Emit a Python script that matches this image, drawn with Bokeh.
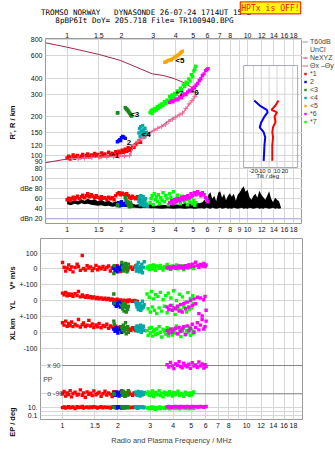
import math
from bokeh.plotting import figure
from bokeh.models import (Range1d, LinearScale, LogScale, FixedTicker, Label, Span, LogAxis,
                          LinearAxis, Legend, LegendItem)
from bokeh.layouts import column, row
from bokeh.embed import file_html
from bokeh.resources import INLINE
from bokeh.core.properties import value

# ---------------- data ----------------
FREQ_TICKS = [1, 1.5, 2, 3, 4, 5, 6, 7, 8, 10, 12, 14, 16, 18]
FREQ_TICKS_MID = [1, 1.5, 2, 3, 4, 5, 6, 7, 8, 9, 10, 12, 14, 16, 18]
HEIGHT_TICKS = [80, 90, 100, 120, 150, 200, 300, 400, 600, 800]
AMP_TICKS = [100, 80, 60, 40, 20]
AMP_TICK_LABELS = ["100", "dBe 80", "60", "40", "dBn 20"]
TILT_TICKS = [-20, -10, 0, 10, 20]
TILT_GRID = [-20, -10, 0, 10, 20, 30]
VS_TICKS = [100, 0, -100]
VS_LABELS = ["100", "0", "+-100"]
YL_TICKS = [0, -100]
YL_LABELS = ["0", "+-100"]
XL_TICKS = [0, -100]
XL_LABELS = ["0", "-100"]
PP_TICKS = [90, -90]
EP_TICKS = [10, 1, 0.1]
EP_LABELS = ["10.", "", "0.1"]

NBSP3 = "\u00a0\u00a0\u00a0"
TITLE_1 = "TROMSO NORWAY" + NBSP3 + "DYNASONDE 26-07-24 1714UT 15°E"
TITLE_2 = "8pBP6It DoY= 205.718 File= TR100940.BPG"
HPTX = "HPTx is OFF!"

# real-height profile (maroon) incl. topside
PROFILE_F = [0.759, 1.00, 1.30, 1.70, 2.00, 2.25, 2.28, 2.42, 2.65, 3.01, 3.41, 3.71,
             4.02, 4.38, 4.86, 5.00, 5.17, 5.35, 5.15, 4.38, 3.86, 3.41, 2.97, 1.98,
             1.51, 1.00, 0.759]
PROFILE_H = [88, 94, 96, 98, 99, 100, 118, 127, 139, 157, 173, 190,
             201, 215, 260, 273, 293, 310, 325, 372, 400, 420, 432, 549,
             611, 697, 754]

# NeXYZ profile points (pink +)
NEXYZ_F = [1.06, 1.15, 1.25, 1.37, 1.50, 1.66, 1.81, 1.94, 2.08, 2.22, 2.34, 2.47, 2.60, 2.74,
           2.88, 3.03, 3.18, 3.34, 3.50, 3.66, 3.83, 4.00, 4.18, 4.36, 4.55, 4.74, 4.92, 5.10]
NEXYZ_H = [94.5, 95, 95.5, 96.5, 97, 97.5, 98, 98.5, 99, 100, 120, 129, 136, 143,
           150, 157, 163, 168, 174, 184, 191, 199, 207, 214, 232, 252, 268, 287]

# trace *1 (red)
RED_F = [1.00, 1.02, 1.04, 1.06, 1.08, 1.10, 1.12, 1.14, 1.17, 1.20,
         1.22, 1.25, 1.28, 1.30, 1.33, 1.36, 1.39, 1.42, 1.45, 1.48,
         1.52, 1.55, 1.58, 1.62, 1.66, 1.70, 1.74, 1.78, 1.82, 1.86,
         1.90, 1.94, 1.98, 2.02, 2.06, 2.10, 2.14, 2.18, 2.22, 2.26,
         2.30, 2.35, 2.40, 2.45, 2.50, 2.55]
RED_H = [96, 99, 94, 97, 101, 95, 98, 100, 96, 99,
         102, 97, 100, 103, 98, 101, 99, 104, 100, 102,
         98, 105, 101, 103, 99, 106, 102, 104, 100, 107,
         103, 108, 105, 110, 106, 112, 108, 115, 110, 113,
         118, 116, 122, 126, 130, 127]
RED_AMP = [58, 61, 56, 60, 63, 59, 62, 65, 60, 64,
           67, 62, 66, 70, 64, 68, 65, 62, 66, 63,
           60, 64, 61, 62, 59, 63, 60, 62, 58, 66,
           70, 72, 68, 71, 69, 67, 70, 66, 63, 61,
           65, 62, 60, 64, 61, 58]
RED_VS = [40, 10, -15, 5, 25, -5, 12, -20, 8, 30,
          15, -10, 85, 2, -8, 20, 5, 12, -12, 3,
          22, -6, 10, 0, 15, -3, 8, 18, -14, 5,
          12, -8, 20, 2, -18, 10, -5, 15, 3, -10,
          6, 12, -4, 8, 18, -6]
RED_YL = [45, 35, 50, 28, 40, 32, 38, 25, 42, 30,
          55, 22, 34, 26, 20, 30, 18, 24, 15, 22,
          12, 19, 10, 16, 8, 14, 6, 12, 3, 10,
          5, 0, 8, -3, 4, -6, 2, -4, 0, -8,
          3, -2, -5, 0, -3, -6]
RED_XL = [60, 45, 70, 38, 55, 42, 65, 35, 50, 40,
          80, 33, 48, 58, 36, 44, 75, 39, 52, 30,
          46, 34, 55, 28, 42, 36, 50, 25, 40, 32,
          22, 38, 28, 20, 35, 18, 26, 30, 15, 24,
          20, 12, 28, 16, 10, 22]
RED_PP = [-90, -75, -105, -85, -95, -70, -110, -88, -80, -98,
          -92, -65, -100, -84, -112, -78, -94, -86, -102, -72,
          -96, -88, -80, -106, -90, -74, -98, -84, -92, -108,
          -76, -90, -100, -82, -94, -70, -88, -104, -86, -96,
          -80, -92, -100, -84, -90, -98]
RED_EP = [8, 12, 6, 10, 14, 7, 9, 11, 5, 13,
          8, 10, 15, 6, 9, 12, 7, 11, 8, 14,
          10, 6, 9, 13, 7, 12, 8, 10, 6, 11,
          9, 14, 7, 10, 12, 8, 6, 11, 9, 13,
          7, 10, 8, 12, 9, 6]

# trace 2 (blue)
BLUE_F = [1.90, 1.93, 1.96, 1.98, 2.00, 2.03, 2.06, 2.10]
BLUE_H = [128, 130, 133, 131, 138, 141, 139, 136]
BLUE_AMP = [48, 52, 46, 50, 54, 49, 47, 51]
BLUE_VS = [5, -10, 15, -20, 0, 10, -5, 20]
BLUE_YL = [-15, -25, -35, -20, -30, -10, -40, -22]
BLUE_XL = [20, 5, 30, 10, -5, 15, 25, 0]
BLUE_PP = [-85, -100, -78, -95, -88, -105, -80, -92]
BLUE_EP = [9, 12, 7, 10, 14, 8, 11, 6]

# trace <3 (dark green)
DG_F = [1.90, 1.91, 2.10, 2.12, 2.14, 2.16, 2.18, 2.20, 2.22, 2.24, 2.26, 2.28]
DG_H = [214, 216, 236, 232, 229, 226, 222, 218, 214, 210, 206, 203]
DG_AMP = [46, 48, 62, 58, 52, 55, 47, 50, 44, 53, 49, 45]
DG_VS = [-30, 20, 40, 10, -15, 25, -5, 35, 15, -20, 5, 30]
DG_YL = [40, -15, -30, -50, -20, -65, -40, -25, -70, -45, -55, -35]
DG_XL = [70, 50, 30, 15, 45, 5, 25, 60, -10, 20, 35, 0]
DG_PP = [-88, -95, -80, -100, -75, -92, -85, -105, -90, -82, -98, -70]
DG_EP = [10, 8, 12, 7, 11, 9, 13, 6, 10, 8, 12, 9]

# trace <4 (cyan)
CY_F = [2.50, 2.52, 2.54, 2.56, 2.58, 2.60, 2.62, 2.64, 2.66, 2.68, 2.70, 2.72, 2.75, 2.78]
CY_H = [150, 162, 140, 168, 155, 145, 171, 158, 138, 150, 163, 144, 152, 147]
CY_AMP = [55, 62, 48, 66, 52, 58, 50, 64, 46, 57, 53, 60, 49, 45]
CY_VS = [10, -15, 25, -5, 40, 0, -20, 15, 5, -10, 30, -25, 8, 45]
CY_YL = [-10, -25, -40, -15, -55, -30, -45, -20, -60, -35, -50, -5, -40, -25]
CY_XL = [30, 15, 40, 20, 5, 35, 25, 10, 45, 0, 28, 18, 38, 12]
CY_PP = [-80, -95, -88, -100, -75, -92, -85, -105, -90, -78, -98, -86, -94, -82]
CY_EP = [11, 8, 13, 9, 7, 12, 10, 14, 8, 11, 9, 12, 7, 10]

# trace <5 (orange)
OR_F = [3.48, 3.55, 3.63, 3.70, 3.78, 3.86, 3.95, 4.02, 4.09, 4.16, 4.23, 4.29, 4.35]
OR_H = [532, 540, 549, 552, 556, 570, 583, 590, 600, 611, 625, 637, 650]

# trace *6 (magenta)
MG_F = [3.70, 3.78, 3.86, 3.95, 4.03, 4.12, 4.21, 4.30, 4.38, 4.47,
        4.56, 4.66, 4.76, 4.86, 4.96, 5.07, 5.18, 5.29, 5.40, 5.51,
        5.62, 5.74, 5.86, 5.95, 6.03]
MG_H = [258, 266, 262, 270, 276, 272, 286, 282, 294, 302,
        298, 312, 322, 318, 334, 340, 352, 364, 384, 396,
        420, 432, 458, 466, 475]
MG_AMP = [52, 56, 50, 58, 54, 60, 56, 62, 58, 64,
          60, 66, 62, 70, 66, 72, 68, 74, 70, 66,
          72, 68, 62, 58, 54]
MG_VS = [5, 12, 0, 8, 15, 3, 10, 18, 6, 14,
         2, 20, 8, 25, 12, 30, 16, 42, 22, 10,
         28, 18, 35, 14, 24]
MG_YL = [-40, -55, -30, -60, -45, -50, -35, -65, -25, -70,
         -20, -50, -10, -40, 0, -30, 10, -20, 20, -80,
         15, -95, 5, 25, -60]
MG_XL = [10, -5, 20, 0, 15, 25, -10, 30, 5, 20,
         35, -15, 40, 10, 25, 50, 0, 30, 60, 15,
         45, 80, 20, 35, 70]
MG_PP = [95, 80, 110, 88, 70, 100, 92, 115, 84, 76,
         104, 90, 82, 98, 72, 108, 86, 94, 78, 112,
         88, 100, 74, 96, 84]
MG_EP = [12, 15, 10, 14, 11, 16, 13, 10, 15, 12,
         14, 11, 16, 13, 10, 15, 12, 14, 11, 13,
         16, 12, 10, 14, 15]

# trace *7 (light green)
LG_F = [2.88, 2.92, 2.96, 3.00, 3.04, 3.08, 3.12, 3.16, 3.20, 3.25,
        3.30, 3.35, 3.40, 3.46, 3.52, 3.58, 3.64, 3.70, 3.76, 3.82,
        3.88, 3.95, 4.02, 4.09, 4.16, 4.24, 4.32, 4.40, 4.48, 4.56,
        4.64, 4.72, 4.80, 4.88, 4.96, 5.04, 5.10, 5.16]
LG_H = [216, 224, 212, 228, 222, 233, 226, 240, 232, 246,
        238, 252, 246, 262, 254, 270, 262, 288, 276, 296,
        286, 304, 298, 318, 312, 335, 326, 355, 345, 372,
        362, 395, 380, 425, 410, 455, 470, 495]
LG_AMP = [52, 60, 66, 48, 70, 58, 64, 55, 68, 50,
          62, 57, 72, 54, 66, 60, 48, 70, 63, 56,
          74, 52, 61, 67, 58, 50, 65, 62, 55, 60,
          48, 58, 53, 62, 50, 56, 47, 52]
LG_VS = [5, 15, -5, 20, 10, 0, 25, 8, -10, 18,
         12, 3, 22, 6, -8, 15, 10, 28, 2, 14,
         -4, 18, 8, 12, 24, 0, 16, 6, 20, -6,
         10, 14, 4, 26, 8, 12, 18, 2]
LG_YL = [40, -50, 20, -70, 55, -40, 10, -60, 35, -80,
         25, -45, 50, -65, 5, -35, 30, -75, 45, -55,
         15, -30, 60, -85, 0, -50, 38, -60, 22, -40,
         -10, -70, 48, -55, 12, -45, 30, -20]
LG_XL = [10, -20, 25, -5, 30, -25, 5, 15, -15, 20,
         -8, 35, 0, -30, 18, 8, -12, 28, -22, 12,
         2, -18, 22, -5, 40, -10, 15, -28, 6, 25,
         -15, 10, -2, 30, -20, 14, -8, 4]
LG_PP = [-90, -78, -100, -85, -95, -72, -108, -88, -82, -96,
         -92, -70, -102, -86, -110, -80, -94, -84, -98, -76,
         -90, -104, -82, -96, -88, -74, -100, -86, -92, -106,
         -80, -94, -88, -100, -84, -96, -90, -78]
LG_EP = [6, 9, 4, 8, 12, 5, 7, 10, 3, 8,
         6, 11, 4, 9, 7, 5, 10, 6, 8, 4,
         12, 6, 9, 5, 7, 11, 4, 8, 6, 10,
         5, 7, 9, 4, 8, 6, 10, 5]

# unclassified amplitude band (black)
BLACK_F = [1.00, 1.05, 1.10, 1.15, 1.20, 1.25, 1.30, 1.36, 1.42, 1.48,
           1.55, 1.62, 1.70, 1.78, 1.86, 1.95, 2.05, 2.15, 2.25, 2.40,
           2.55, 2.70, 2.90, 3.10, 3.35, 3.60, 3.90, 4.20, 4.50, 4.80,
           5.10, 5.40, 5.62, 5.77, 5.91, 6.06, 6.22, 6.37, 6.54, 6.70,
           6.87, 7.05, 7.22, 7.41, 7.59, 7.79, 7.98, 8.18, 8.39, 8.61,
           8.82, 9.05, 9.28, 9.51, 9.75, 10.00, 10.25, 10.51, 10.78, 11.05,
           11.33, 11.62, 11.92, 12.22, 12.53, 12.85, 13.17, 13.50, 13.85, 14.20,
           14.56, 14.93, 15.30]
BLACK_HI = [57, 54, 58, 55, 59, 56, 60, 57, 59, 55,
            58, 54, 56, 52, 55, 51, 53, 50, 52, 48,
            50, 47, 49, 46, 48, 47, 49, 48, 51, 50,
            53, 51, 53, 58, 52, 68, 73, 60, 66, 55,
            72, 75, 62, 70, 57, 66, 71, 64, 70, 56,
            68, 73, 80, 85, 74, 78, 63, 58, 66, 70,
            62, 76, 68, 63, 58, 66, 75, 60, 53, 62,
            58, 55, 43]
BLACK_LO = [49, 47, 50, 48, 51, 49, 50, 48, 47, 46,
            47, 45, 46, 44, 45, 43, 44, 43, 42, 42,
            41, 42, 41, 41, 40, 41, 40, 41, 40, 41,
            40, 41, 41, 40, 42, 41, 40, 42, 41, 40,
            41, 42, 40, 41, 42, 40, 41, 40, 42, 41,
            40, 41, 42, 40, 41, 40, 42, 41, 40, 41,
            42, 40, 41, 40, 42, 41, 40, 41, 42, 40,
            41, 40, 41]

# tilt inset
TILT_HT = [268, 245, 227, 217, 201, 182, 166, 152, 139, 120, 103, 91]
TILT_X = [12, 8, 3, 10, 7, 8, 5, 4, 5, 4, 4, 4]
TILT_Y = [-19, -12, -3, -2, -6, -10, -12, -7, -5, -6, -6.5, -7]

# trace labels in the height panel
TL_TEXT = ["*1", "2", "<3", "<4", "<5", "*6", "*7"]
TL_F = [1.85, 2.20, 2.37, 2.74, 4.21, 5.11, 4.20]
TL_H = [100, 127, 208, 147, 550, 311, 302]

LEGEND_TRACE_LABELS = ["*1", "2", "<3", "<4", "<5", "*6", "*7"]

# ---------------- layout constants ----------------
F_RANGE = (0.759, 20.15)
H_RANGE = (29.6, 814.5)
AMP_RANGE = (10.6, 380.6)
TILT_RANGE = (-285.0, 42.5)
INSET_T = (-32.5, 36.25)
INSET_H = (80.7, 502)
VS_RANGE = (-966.0, 194.2)
YL_RANGE = (-727.8, 379.2)
XL_RANGE = (-552.5, 593.0)
PP_RANGE = (-253.8, 899.0)
EP_RANGE = (0.01087, 4.47e41)

W = 335
HT = 26            # title strip
H1 = 236 - HT      # upper figure
H2 = 215           # lower figure
FL, FR = 40, 302
FT1, FB1 = 38, 223
FT2, FB2 = 238, 419
LEG_TOP = 36       # top of legend box (page px)
MS = 3.4           # marker size

RED, BLUE, DGREEN, CYAN, ORANGE, MAGENTA, LGREEN = (
    "#ff0000", "#0000ff", "#1a8a1a", "#00a8a8", "#ffa500", "#ff00ff", "#00ff00")
TRACE_COLORS = [RED, BLUE, DGREEN, CYAN, ORANGE, MAGENTA, LGREEN]
MAROON = "#a0284e"
PINK = "#ec6c9c"
GRID = "#d6d6d6"
FRAME = "#9a9a9a"
FONT = "Liberation Sans"
MONO = "DejaVu Sans Mono"
NAN = float("nan")


def fmt(v):
    return "%g" % v


def style_axis(ax, ticks, overrides, size="7px"):
    ax.ticker = FixedTicker(ticks=ticks, minor_ticks=[])
    ax.major_label_overrides = overrides
    ax.major_tick_in = 0
    ax.major_tick_out = 0
    ax.minor_tick_in = 0
    ax.minor_tick_out = 0
    ax.axis_line_color = None
    ax.major_label_standoff = 2
    ax.major_label_text_font = FONT
    ax.major_label_text_font_size = size
    ax.major_label_text_color = "#111111"


def frac_of(v, rng, log=False):
    a0, a1 = rng
    if log:
        return (math.log10(v) - math.log10(a0)) / (math.log10(a1) - math.log10(a0))
    return (v - a0) / (a1 - a0)


freq_over = {f: fmt(f) for f in FREQ_TICKS_MID}

# ================= title strip (frame spans page x FL..W) =================
pt = figure(width=W, height=HT, x_range=Range1d(FL, W), y_range=Range1d(HT, 0),
            output_backend="svg", toolbar_location=None,
            x_axis_location=None, y_axis_location=None,
            min_border_left=FL, min_border_right=0, min_border_top=0, min_border_bottom=0,
            outline_line_color=None)
pt.grid.grid_line_color = None
pt.background_fill_color = "white"
pt.border_fill_color = "white"
for x, y, t in [(40.5, 12.2, TITLE_1), (56.7, 19.7, TITLE_2)]:
    pt.add_layout(Label(x=x, y=y, text=t, text_font=MONO, text_font_size="7.6px",
                        text_color="black", text_align="left", text_baseline="middle"))
pt.add_layout(Label(x=333, y=7.4, text=HPTX, text_font=MONO, text_font_size="8.1px",
                    text_color="red", text_align="right", text_baseline="middle",
                    background_fill_color="#ffff00", border_line_color="red", padding=1))

# ================= upper figure: heights + amplitudes =================
p1 = figure(width=FR, height=H1, x_axis_type="log", y_axis_type="log",
            x_range=Range1d(*F_RANGE), y_range=Range1d(*H_RANGE),
            output_backend="svg", toolbar_location=None,
            min_border_left=FL, min_border_right=0,
            min_border_top=FT1 - HT, min_border_bottom=HT + H1 - FB1)
p1.extra_y_ranges = {"amp": Range1d(*AMP_RANGE)}
p1.extra_y_scales = {"amp": LinearScale()}
p1.extra_x_ranges = {"tilt": Range1d(*TILT_RANGE)}
p1.extra_x_scales = {"tilt": LinearScale()}
p1.outline_line_color = FRAME
p1.background_fill_color = "white"
p1.border_fill_color = "white"

lh0, lh1 = math.log10(H_RANGE[0]), math.log10(H_RANGE[1])
left1_ticks = list(HEIGHT_TICKS)
left1_over = {h: fmt(h) for h in HEIGHT_TICKS}
for a, t in zip(AMP_TICKS, AMP_TICK_LABELS):
    pos = round(10 ** (lh0 + frac_of(a, AMP_RANGE) * (lh1 - lh0)), 6)
    left1_ticks.append(pos)
    left1_over[pos] = t

style_axis(p1.xaxis[0], FREQ_TICKS_MID, freq_over)
p1.xaxis[0].major_label_standoff = 3
top_ax = LogAxis()
style_axis(top_ax, FREQ_TICKS, freq_over)
top_ax.major_label_standoff = 1
p1.add_layout(top_ax, "above")
style_axis(p1.yaxis[0], left1_ticks, left1_over)
p1.yaxis[0].major_label_standoff = 3

# rotated axis name as an outer left axis
RL1_H = 245
ax_name1 = LogAxis()
style_axis(ax_name1, [RL1_H], {RL1_H: "R', R / km"}, size="7.5px")
ax_name1.major_label_orientation = math.pi / 2
ax_name1.major_label_text_font_style = "bold"
ax_name1.major_label_standoff = 5
p1.add_layout(ax_name1, "left")

p1.xgrid.ticker = FixedTicker(ticks=FREQ_TICKS_MID)
p1.ygrid.ticker = FixedTicker(ticks=left1_ticks)
p1.xgrid.grid_line_color = GRID
p1.ygrid.grid_line_color = GRID
p1.add_layout(Span(location=20, dimension="width", y_range_name="amp",
                   line_color="#a9a9e6", line_width=1))

# amplitude band of unclassified echoes
p1.varea(x=BLACK_F, y1=BLACK_LO, y2=BLACK_HI, y_range_name="amp", fill_color="black")

# profile
p1.line(PROFILE_F, PROFILE_H, line_color=MAROON, line_width=1)

traces = [
    (RED_F, RED_H, RED_AMP, RED),
    (BLUE_F, BLUE_H, BLUE_AMP, BLUE),
    (DG_F, DG_H, DG_AMP, DGREEN),
    (CY_F, CY_H, CY_AMP, CYAN),
    (LG_F, LG_H, LG_AMP, LGREEN),
    (MG_F, MG_H, MG_AMP, MAGENTA),
]
for f, h, amp, c in traces:
    p1.scatter(f, h, marker="square", size=MS, fill_color=c, line_color=None)
    p1.scatter(f, amp, marker="square", size=MS, fill_color=c, line_color=None,
               y_range_name="amp")
p1.scatter(OR_F, OR_H, marker="square", size=MS, fill_color=ORANGE, line_color=None)

p1.line(NEXYZ_F, NEXYZ_H, line_color=PINK, line_width=1)
p1.scatter(NEXYZ_F, NEXYZ_H, marker="cross", size=5, line_color=PINK, line_width=1)

p1.text(x=TL_F, y=TL_H, text=TL_TEXT, text_font=value(FONT), text_font_size="8px",
        text_font_style="bold", text_color="black", text_align="center",
        text_baseline="middle")

# tilt inset
p1.quad(left=[INSET_T[0]], right=[INSET_T[1]], bottom=[INSET_H[0]], top=[INSET_H[1]],
        x_range_name="tilt", fill_color="white", line_color=None)
p1.segment(x0=TILT_GRID, x1=TILT_GRID, y0=[INSET_H[0]] * len(TILT_GRID),
           y1=[INSET_H[1]] * len(TILT_GRID), x_range_name="tilt",
           line_color=GRID, line_width=1)
hs = [h for h in HEIGHT_TICKS if INSET_H[0] < h < INSET_H[1]]
p1.segment(x0=[INSET_T[0]] * len(hs), x1=[INSET_T[1]] * len(hs), y0=hs, y1=hs,
           x_range_name="tilt", line_color=GRID, line_width=1)
p1.quad(left=[INSET_T[0]], right=[INSET_T[1]], bottom=[INSET_H[0]], top=[INSET_H[1]],
        x_range_name="tilt", fill_color=None, line_color="#a8a8b8", line_width=1)
p1.line(TILT_X, TILT_HT, x_range_name="tilt", line_color=RED, line_width=2)
p1.line(TILT_Y, TILT_HT, x_range_name="tilt", line_color=BLUE, line_width=2)
p1.text(x=TILT_TICKS, y=[116.6] * len(TILT_TICKS), text=[fmt(t) for t in TILT_TICKS],
        x_range_name="tilt", y_range_name="amp", text_font=value(FONT),
        text_font_size="6px", text_align="center", text_baseline="middle",
        text_color="#222222")
p1.text(x=[-2], y=[105.8], text=["Tilt / deg"], x_range_name="tilt", y_range_name="amp",
        text_font=value(FONT), text_font_size="6px", text_align="center",
        text_baseline="middle", text_color="#222222")

# ================= legend strip (right of upper figure) =================
pl = figure(width=W - FR, height=H1, x_range=Range1d(0, 1), y_range=Range1d(0, 1),
            output_backend="svg", toolbar_location=None,
            x_axis_location=None, y_axis_location=None,
            min_border=0, min_border_top=LEG_TOP - HT, outline_line_color=None)
pl.grid.grid_line_color = None
pl.background_fill_color = "white"
pl.border_fill_color = "white"
# legend proxies: a single NaN point each, so nothing is drawn in the strip itself
r_t60 = pl.line(x=[NAN], y=[NAN], line_color="#9a9a9a", line_width=1)
r_uncl = pl.scatter(x=[NAN], y=[NAN], marker="dot", size=6, line_color="black")
r_nx_l = pl.line(x=[NAN], y=[NAN], line_color=PINK, line_width=1)
r_nx_p = pl.scatter(x=[NAN], y=[NAN], marker="cross", size=5, line_color=PINK)
r_tx = pl.line(x=[NAN], y=[NAN], line_color="#e05a78", line_width=1)
items = [LegendItem(label="T60dB", renderers=[r_t60]),
         LegendItem(label="UnCl", renderers=[r_uncl]),
         LegendItem(label="NeXYZ", renderers=[r_nx_l, r_nx_p]),
         LegendItem(label="Θx –Θy", renderers=[r_tx])]
for lbl, c in zip(LEGEND_TRACE_LABELS, TRACE_COLORS):
    rr = pl.scatter(x=[NAN], y=[NAN], marker="square", size=4, fill_color=c, line_color=None)
    items.append(LegendItem(label=lbl, renderers=[rr]))
legend = Legend(items=items, location="top_left", orientation="vertical",
                glyph_width=6, glyph_height=7, label_height=7, label_width=8,
                label_standoff=2, padding=1, margin=0, spacing=1,
                label_text_font=FONT, label_text_font_size="7px",
                border_line_color=None, background_fill_alpha=0)
pl.add_layout(legend)

# ================= lower figure: V*, YL, XL, PP, EP =================
p2 = figure(width=W, height=H2, x_axis_type="log",
            x_range=Range1d(*F_RANGE), y_range=Range1d(*VS_RANGE),
            output_backend="svg", toolbar_location=None,
            min_border_left=FL, min_border_right=W - FR,
            min_border_top=FT2 - HT - H1, min_border_bottom=HT + H1 + H2 - FB2)
p2.extra_y_ranges = {"yl": Range1d(*YL_RANGE), "xl": Range1d(*XL_RANGE),
                     "pp": Range1d(*PP_RANGE), "ep": Range1d(*EP_RANGE)}
p2.extra_y_scales = {"yl": LinearScale(), "xl": LinearScale(),
                     "pp": LinearScale(), "ep": LogScale()}
p2.outline_line_color = FRAME
p2.background_fill_color = "white"
p2.border_fill_color = "white"


def to_vs(v, rng, log=False):
    return round(VS_RANGE[0] + frac_of(v, rng, log) * (VS_RANGE[1] - VS_RANGE[0]), 5)


left2_ticks, left2_over = [], {}
for v, t in zip(VS_TICKS, VS_LABELS):
    left2_ticks.append(v)
    left2_over[v] = t
for ticks, labels, rng, lg in [(YL_TICKS, YL_LABELS, YL_RANGE, False),
                               (XL_TICKS, XL_LABELS, XL_RANGE, False),
                               (PP_TICKS, ["", ""], PP_RANGE, False),
                               (EP_TICKS, EP_LABELS, EP_RANGE, True)]:
    for v, t in zip(ticks, labels):
        pos = to_vs(v, rng, lg)
        left2_ticks.append(pos)
        left2_over[pos] = t

style_axis(p2.xaxis[0], FREQ_TICKS, freq_over)
p2.xaxis[0].major_label_standoff = 3
p2.xaxis[0].axis_label = "Radio and Plasma Frequency / MHz"
p2.xaxis[0].axis_label_text_font = FONT
p2.xaxis[0].axis_label_text_font_size = "7.5px"
p2.xaxis[0].axis_label_text_font_style = "normal"
p2.xaxis[0].axis_label_standoff = 5
style_axis(p2.yaxis[0], left2_ticks, left2_over)
p2.yaxis[0].major_label_standoff = 3

# panel names as an outer rotated left axis
name_pos = [to_vs(15, VS_RANGE), to_vs(0, YL_RANGE), to_vs(88, XL_RANGE),
            to_vs(10, XL_RANGE), to_vs(10, EP_RANGE, True)]
name_txt = ["V* m/s", "YL", "km", "XL", "EP / deg"]
ax_name2 = LinearAxis()
style_axis(ax_name2, name_pos, dict(zip(name_pos, name_txt)), size="7.5px")
ax_name2.major_label_orientation = math.pi / 2
ax_name2.major_label_text_font_style = "bold"
ax_name2.major_label_standoff = 4
p2.add_layout(ax_name2, "left")

p2.xgrid.ticker = FixedTicker(ticks=FREQ_TICKS_MID)
p2.ygrid.ticker = FixedTicker(ticks=left2_ticks)
p2.xgrid.grid_line_color = GRID
p2.ygrid.grid_line_color = GRID

p2.segment(x0=[FREQ_TICKS[0]] * 2, x1=[F_RANGE[1]] * 2, y0=PP_TICKS, y1=PP_TICKS,
           y_range_name="pp", line_color="#858585", line_width=1)

lower = [
    (RED_F, RED_VS, RED_YL, RED_XL, RED_PP, RED_EP, RED),
    (BLUE_F, BLUE_VS, BLUE_YL, BLUE_XL, BLUE_PP, BLUE_EP, BLUE),
    (DG_F, DG_VS, DG_YL, DG_XL, DG_PP, DG_EP, DGREEN),
    (CY_F, CY_VS, CY_YL, CY_XL, CY_PP, CY_EP, CYAN),
    (LG_F, LG_VS, LG_YL, LG_XL, LG_PP, LG_EP, LGREEN),
    (MG_F, MG_VS, MG_YL, MG_XL, MG_PP, MG_EP, MAGENTA),
]
for f, vs, yl, xl, pp, ep, c in lower:
    kw = dict(marker="square", size=MS, fill_color=c, line_color=None)
    p2.scatter(f, vs, **kw)
    p2.scatter(f, yl, y_range_name="yl", **kw)
    p2.scatter(f, xl, y_range_name="xl", **kw)
    p2.scatter(f, pp, y_range_name="pp", **kw)
    p2.scatter(f, ep, y_range_name="ep", **kw)

p2.add_layout(Label(x=0.826, y=90, y_range_name="pp", text="x 90", text_font=FONT,
                    text_font_size="7px", text_align="left", text_baseline="middle"))
p2.add_layout(Label(x=0.826, y=-90, y_range_name="pp", text="o -90", text_font=FONT,
                    text_font_size="7px", text_align="left", text_baseline="middle"))
p2.add_layout(Label(x=0.785, y=0, y_range_name="pp", text="PP", text_font=FONT,
                    text_font_size="7px", text_align="left", text_baseline="middle"))

layout = column(pt, row(p1, pl), p2)
open("out.html", "w").write(file_html(layout, INLINE, title="Dynasonde ionogram"))
